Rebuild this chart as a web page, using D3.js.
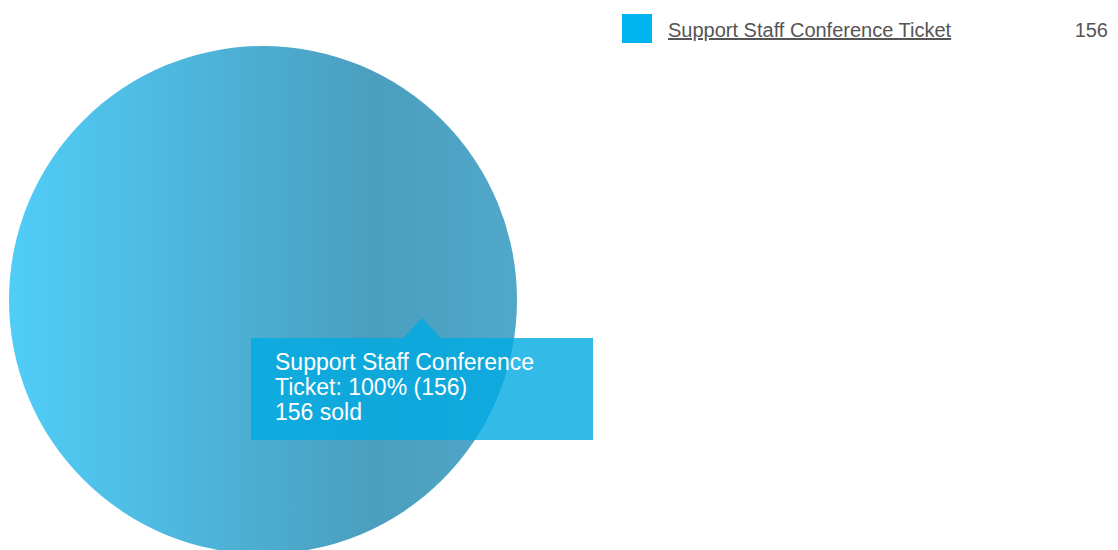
<!DOCTYPE html>
<html lang="en">
<head>
    <meta charset="UTF-8">
    <script src="https://cdn.jsdelivr.net/npm/d3@7/dist/d3.min.js"></script>
    <title>Tickets sold</title>
    <style>
        body {
            margin: 0;
            background: #fff;
            font-family: "Liberation Sans", Arial, sans-serif;
        }
    </style>
</head>
<body>
    <svg id="chart"></svg>
</body>

<script>
    const categories = ["Support Staff Conference Ticket"];
    const sold = [156];
    const colors = ["#00b4f0"];

    const width = 1118;
    const height = 550;
    const cx = 263, cy = 300, radius = 254;

    const svg = d3.select("#chart")
        .attr("width", width)
        .attr("height", height)
        .style("display", "block");

    const total = d3.sum(sold);
    const data = categories.map((c, i) => ({name: c, value: sold[i]}));

    // shaded fill for the pie
    const grad = svg.append("defs").append("linearGradient")
        .attr("id", "shade")
        .attr("x1", "0%").attr("x2", "100%")
        .attr("y1", "0%").attr("y2", "0%");
    grad.append("stop").attr("offset", "0%").attr("stop-color", "#50cdf8");
    grad.append("stop").attr("offset", "72%").attr("stop-color", "#4b9ebe");
    grad.append("stop").attr("offset", "100%").attr("stop-color", "#50a8c9");

    const pie = d3.pie().sort(null).value(d => d.value);
    const arc = d3.arc().innerRadius(0).outerRadius(radius);

    svg.append("g")
        .attr("transform", `translate(${cx},${cy})`)
        .selectAll("path")
        .data(pie(data))
        .join("path")
        .attr("d", arc)
        .attr("fill", "url(#shade)");

    // legend
    const legend = svg.append("g").attr("transform", "translate(622,14)");
    const row = legend.selectAll("g")
        .data(data)
        .join("g")
        .attr("transform", (d, i) => `translate(0,${i * 40})`);

    row.append("rect")
        .attr("width", 30)
        .attr("height", 29)
        .attr("fill", (d, i) => colors[i]);

    row.append("text")
        .attr("x", 46)
        .attr("y", 23)
        .attr("font-size", 20)
        .attr("fill", "#555")
        .attr("text-decoration", "underline")
        .text(d => d.name);

    row.append("text")
        .attr("x", 486)
        .attr("y", 23)
        .attr("text-anchor", "end")
        .attr("font-size", 20)
        .attr("fill", "#555")
        .text(d => d.value);

    // hover tooltip for the slice
    const tip = svg.append("g").attr("transform", "translate(251,338)");
    const tw = 342, th = 102, ax = 171;

    tip.append("path")
        .attr("d", `M0,0H${ax - 19}L${ax},-20L${ax + 19},0H${tw}V${th}H0Z`)
        .attr("fill", "rgba(0,170,226,0.8)");

    const d0 = data[0];
    const pct = Math.round(d0.value / total * 100);
    const lines = [
        "Support Staff Conference",
        `Ticket: ${pct}% (${d0.value})`,
        `${d0.value} sold`
    ];

    tip.selectAll("text")
        .data(lines)
        .join("text")
        .attr("x", 24)
        .attr("y", (d, i) => 32 + i * 25)
        .attr("font-size", 23)
        .attr("fill", "#fff")
        .text(d => d);
</script>
</html>
